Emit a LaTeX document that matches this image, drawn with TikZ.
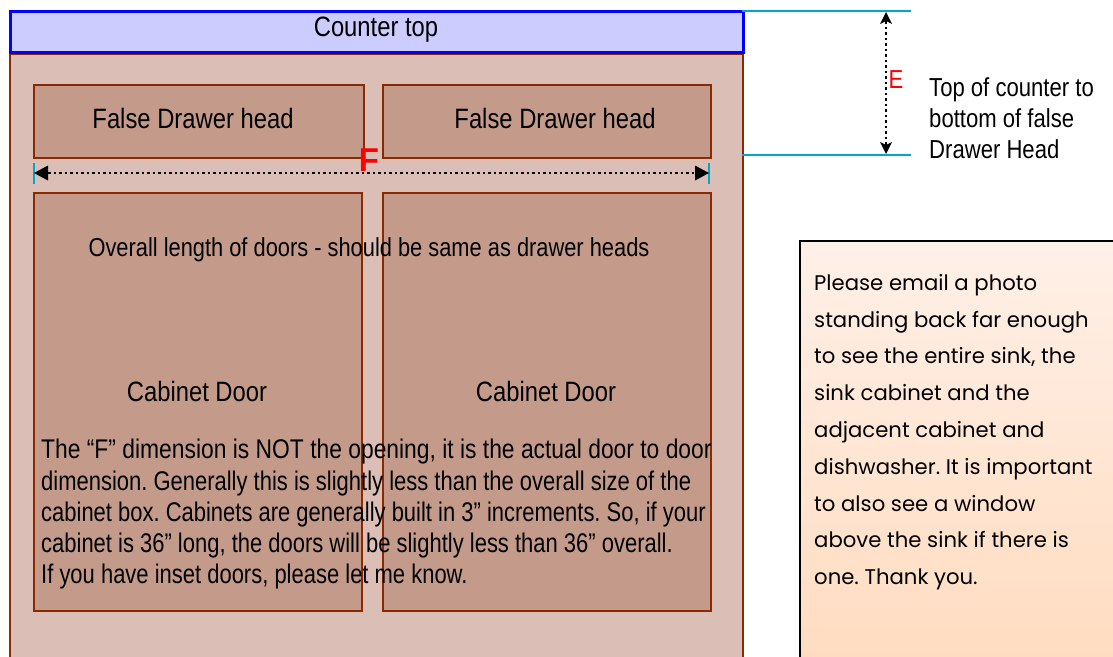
\documentclass[tikz,border=0pt]{standalone}
\usepackage{fontspec}
\setmainfont{Liberation Sans}
\newfontfamily\narrowf[FakeStretch=0.85]{Liberation Sans}
\newfontfamily\narrowg[FakeStretch=0.84]{Liberation Sans}
\newfontfamily\narrowp[FakeStretch=0.846]{Liberation Sans}
\newfontfamily\narrowq[FakeStretch=0.814]{Liberation Sans}
\newfontfamily\notef{Poppins}
\usetikzlibrary{arrows.meta}
\frenchspacing
\definecolor{ctfill}{HTML}{CCCCFF}
\definecolor{ctdraw}{HTML}{0000FF}
\definecolor{cabfill}{HTML}{DBBEB5}
\definecolor{cabdraw}{HTML}{8B2A00}
\definecolor{doorfill}{HTML}{C49B8B}
\definecolor{dimcyan}{HTML}{00A8C8}
\definecolor{notetop}{HTML}{FFF0E8}
\definecolor{notebot}{HTML}{FFDBBE}
\tikzset{
  panel/.style={fill=doorfill, draw=cabdraw, line width=2pt},
  lbl/.style={font=\narrowf\fontsize{28}{32}\selectfont, inner sep=0pt},
  dimline/.style={line width=2.5pt, dash pattern=on 2.5pt off 3pt},
  cyanline/.style={draw=dimcyan, line width=2pt}
}
\begin{document}
\begin{tikzpicture}[x=1pt,y=-1pt]
\useasboundingbox (0,0) rectangle (1113,656);
\clip (0,0) rectangle (1113,656);
% cabinet
\node[fill=cabfill, draw=cabdraw, line width=2pt, minimum width=733pt, minimum height=640pt, anchor=north west, inner sep=0pt] (cab) at (9,53) {};
% counter top
\node[fill=ctfill, draw=ctdraw, line width=2.5pt, minimum width=733pt, minimum height=41pt, anchor=north west, inner sep=0pt] (ct) at (9,10) {};
\node[lbl] (cttext) at (376,30) {Counter top};
% drawer heads
\node[panel, minimum width=330pt, minimum height=73pt, anchor=north west, inner sep=0pt] (dl) at (33,84) {};
\node[panel, minimum width=328pt, minimum height=73pt, anchor=north west, inner sep=0pt] (dr) at (382,84) {};
\node[lbl] (dltext) at (193,118) {False Drawer head};
\node[lbl] (drtext) at (555,118) {False Drawer head};
% doors
\node[panel, minimum width=328pt, minimum height=418pt, anchor=north west, inner sep=0pt] (doorl) at (33,192) {};
\node[panel, minimum width=328pt, minimum height=418pt, anchor=north west, inner sep=0pt] (doorr) at (382,192) {};
\node[lbl] (dooltext) at (197,391) {Cabinet Door};
\node[lbl] (doortext) at (546,391) {Cabinet Door};
\node[lbl, font=\narrowg\fontsize{26}{30}\selectfont] (overall) at (369,250) {Overall length of doors - should be same as drawer heads};
\node[lbl, anchor=north west, align=left, font=\narrowp\fontsize{27}{31.3}\selectfont] (para) at (41,439) {The “F” dimension is NOT the opening, it is the actual door to door\\\narrowq dimension. Generally this is slightly less than the overall size of the\\\narrowq cabinet box. Cabinets are generally built in 3” increments. So, if your\\\narrowq cabinet is 36” long, the doors will be slightly less than 36” overall.\\\narrowq If you have inset doors, please let me know.};
% F dimension
\coordinate (fl) at (34,173);
\coordinate (fr) at (709,173);
\coordinate (flt) at (34,163);
\coordinate (flb) at (34,184);
\coordinate (frt) at (709,163);
\coordinate (frb) at (709,184);
\draw[cyanline] (flt) -- (flb);
\draw[cyanline] (frt) -- (frb);
\draw[dimline, {Triangle[length=14pt,width=15pt,line width=0pt]}-{Triangle[length=14pt,width=15pt,line width=0pt]}] (fl) -- (fr);
\node[text=red, font=\bfseries\fontsize{33}{36}\selectfont, inner sep=0pt] (ftext) at (369,160) {F};
% E dimension
\coordinate (ctr) at (742,11);
\coordinate (ctr2) at (911,11);
\coordinate (dhr) at (742,155);
\coordinate (dhr2) at (911,155);
\draw[cyanline] (ctr) -- (ctr2);
\draw[cyanline] (dhr) -- (dhr2);
\coordinate (et) at (886,12);
\coordinate (eb) at (886,154);
\draw[dimline, {Stealth[length=12pt,width=12pt,inset=3pt,line width=0pt]}-{Stealth[length=12pt,width=12pt,inset=3pt,line width=0pt]}] (et) -- (eb);
\node[text=red, font=\narrowf\fontsize{26}{30}\selectfont, inner sep=0pt] (etext) at (896,80) {E};
\node[lbl, anchor=north west, align=left, font=\narrowf\fontsize{26}{31}\selectfont] (etop) at (929,77) {Top of counter to\\bottom of false\\Drawer Head};
% note
\node[draw=black, line width=2pt, top color=notetop, bottom color=notebot, minimum width=330pt, minimum height=440pt, anchor=north west, inner sep=0pt] (note) at (799,240) {};
\node[anchor=north west, align=left, inner sep=0pt, font=\notef\fontsize{21.2}{36.8}\selectfont] (notetext) at (814,274) {Please email a photo\\standing back far enough\\to see the entire sink, the\\sink cabinet and the\\adjacent cabinet and\\dishwasher. It is important\\to also see a window\\above the sink if there is\\one. Thank you.};
\end{tikzpicture}
\end{document}
